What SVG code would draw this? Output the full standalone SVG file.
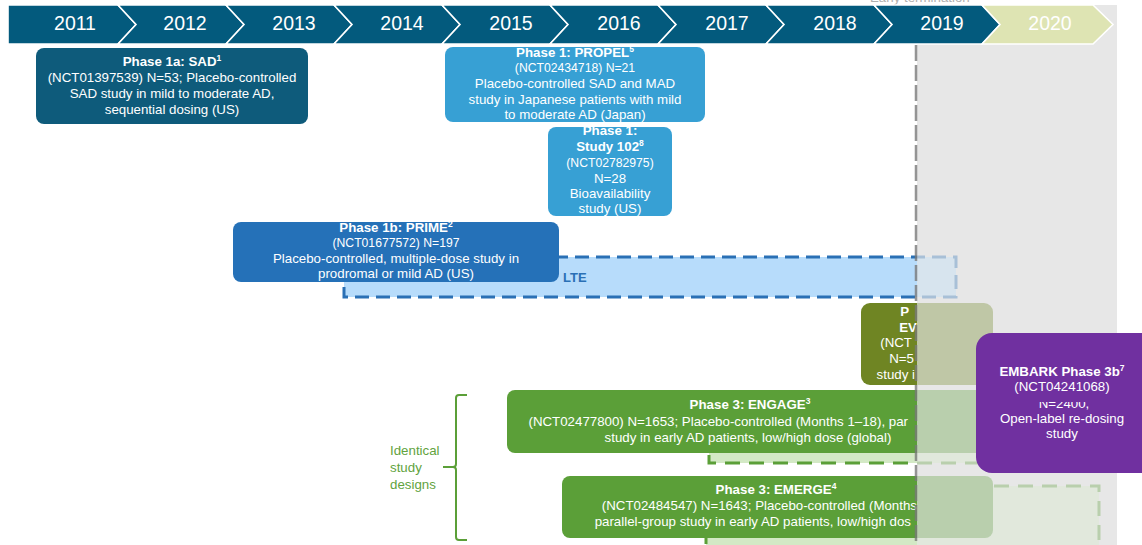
<svg xmlns="http://www.w3.org/2000/svg" width="1142" height="545" viewBox="0 0 1142 545">
  <style>
    text { font-family: 'Liberation Sans', Arial, sans-serif; }
    .yr { font-size: 19.5px; fill: #ffffff; text-anchor: middle; }
    .ttl { font-size: 13.3px; font-weight: bold; fill: #ffffff; text-anchor: middle; }
    .txt { font-size: 13.3px; fill: #ffffff; text-anchor: middle; }
    .sm { font-size: 12.2px; fill: #ffffff; text-anchor: middle; }
    .end { text-anchor: end; }
    .sup { font-size: 8.5px; }
    .chev { fill: #035a7d; stroke: #ffffff; stroke-width: 1.6; }
    .lte-blue { fill: #b7dcfb; stroke: #2a70b5; stroke-width: 3; stroke-dasharray: 14 7; }
    .lte-green { fill: #d3e9c5; stroke: #5b9f38; stroke-width: 3; stroke-dasharray: 15 9; }
    .ph3 { fill: #5b9f38; }
    .lbl { font-size: 13.3px; fill: #62a33e; }
  </style>
  <defs>
    <clipPath id="clipN">
      <rect x="976" y="402" width="170" height="20"/>
    </clipPath>
  </defs>

  <!-- shaded panel for the period after the cut-off -->
  <rect id="panel" x="917" y="5" width="200" height="540" fill="#e7e7e7"/>
  <text x="870" y="1.5" font-size="13.3" fill="#b0b0b0">Early termination</text>

  <!-- long-term extension bars -->
  <g id="lte-prime">
    <rect class="lte-blue" x="344" y="257" width="612" height="40"/>
    <text x="563" y="282" font-size="13" font-weight="bold" fill="#2a70b5">LTE</text>
  </g>
  <g id="lte-engage">
    <rect class="lte-green" x="709" y="420" width="390" height="43"/>
  </g>
  <g id="lte-emerge">
    <rect class="lte-green" x="706" y="486" width="393" height="80"/>
  </g>

  <!-- study nodes -->
  <g id="sad">
    <rect x="36" y="48" width="272" height="76" rx="8" fill="#0e5b7b"/>
    <text class="ttl" x="172" y="66" font-size="12">Phase 1a: SAD<tspan class="sup" dy="-5">1</tspan></text>
    <text class="txt" x="172" y="82">(NCT01397539) N=53; Placebo-controlled</text>
    <text class="txt" x="172" y="98">SAD study in mild to moderate AD,</text>
    <text class="txt" x="172" y="114">sequential dosing (US)</text>
  </g>

  <g id="propel">
    <rect x="445" y="47" width="260" height="75" rx="8" fill="#37a0d4"/>
    <text class="ttl" x="575" y="56.5">Phase 1: PROPEL<tspan class="sup" dy="-5">5</tspan></text>
    <text class="sm" x="575" y="72">(NCT02434718) N=21</text>
    <text class="txt" x="575" y="88" font-size="13.5">Placebo-controlled SAD and MAD</text>
    <text class="txt" x="575" y="103.5" font-size="13.5">study in Japanese patients with mild</text>
    <text class="txt" x="575" y="119" font-size="13.5">to moderate AD (Japan)</text>
  </g>

  <g id="study102">
    <rect x="548" y="127" width="124" height="89" rx="8" fill="#37a0d4"/>
    <text class="ttl" x="610" y="135">Phase 1:</text>
    <text class="ttl" x="610" y="151">Study 102<tspan class="sup" dy="-5">8</tspan></text>
    <text class="sm" x="610" y="167">(NCT02782975)</text>
    <text class="txt" x="610" y="183">N=28</text>
    <text class="txt" x="610" y="198">Bioavailability</text>
    <text class="txt" x="610" y="213">study (US)</text>
  </g>

  <g id="prime">
    <rect x="233" y="222" width="326" height="60" rx="8" fill="#2571b8"/>
    <text class="ttl" x="396" y="232">Phase 1b: PRIME<tspan class="sup" dy="-5">2</tspan></text>
    <text class="sm" x="396" y="247">(NCT01677572) N=197</text>
    <text class="txt" x="396" y="263">Placebo-controlled, multiple-dose study in</text>
    <text class="txt" x="396" y="278">prodromal or mild AD (US)</text>
  </g>

  <g id="evolve">
    <rect x="861" y="303" width="132" height="82" rx="9" fill="#6f8523"/>
    <text class="ttl end" x="909" y="316">P</text>
    <text class="ttl end" x="917" y="332">EV</text>
    <text class="txt end" x="912" y="347">(NCT</text>
    <text class="txt end" x="914" y="363">N=5</text>
    <text class="txt end" x="915" y="379">study i</text>
  </g>

  <g id="engage">
    <rect class="ph3" x="507" y="390" width="486" height="63" rx="8"/>
    <text class="ttl" x="750" y="409">Phase 3: ENGAGE<tspan class="sup" dy="-5">3</tspan></text>
    <text class="txt end" x="908" y="426">(NCT02477800) N=1653; Placebo-controlled (Months 1–18), par</text>
    <text class="txt" x="748" y="442">study in early AD patients, low/high dose (global)</text>
  </g>

  <g id="emerge">
    <rect class="ph3" x="562" y="476" width="431" height="62" rx="8"/>
    <text class="ttl" x="776" y="494">Phase 3: EMERGE<tspan class="sup" dy="-5">4</tspan></text>
    <text class="txt end" x="917" y="510">(NCT02484547) N=1643; Placebo-controlled (Months</text>
    <text class="txt end" x="911" y="526">parallel-group study in early AD patients, low/high dos</text>
  </g>

  <!-- wash over everything past the cut-off -->
  <rect id="panel-wash" x="917" y="44" width="200" height="501" fill="#e7e7e7" opacity="0.67"/>

  <g id="connectors">
    <!-- cut-off line -->
    <line x1="916" y1="45" x2="916" y2="545" stroke="#7a7a7a" stroke-width="2.5" stroke-dasharray="16 4" opacity="0.8"/>
    <!-- bracket grouping the two phase 3 studies -->
    <path d="M467 395 H459 Q456 395 456 398 V464 Q456 467 453 467 H443 M453 467 Q456 467 456 470 V537 Q456 540 459 540 H467" fill="none" stroke="#5b9f38" stroke-width="2"/>
  </g>

  <g id="identical-label">
    <text class="lbl" x="390" y="455">Identical</text>
    <text class="lbl" x="390" y="472">study</text>
    <text class="lbl" x="390" y="489">designs</text>
  </g>

  <!-- year timeline -->
  <g id="timeline">
    <polygon class="chev" points="8,5 118,5 136,24.5 118,44 8,44"/>
    <polygon class="chev" points="118,5 226,5 244,24.5 226,44 118,44 136,24.5"/>
    <polygon class="chev" points="226,5 334,5 352,24.5 334,44 226,44 244,24.5"/>
    <polygon class="chev" points="334,5 442,5 460,24.5 442,44 334,44 352,24.5"/>
    <polygon class="chev" points="442,5 550,5 568,24.5 550,44 442,44 460,24.5"/>
    <polygon class="chev" points="550,5 658,5 676,24.5 658,44 550,44 568,24.5"/>
    <polygon class="chev" points="658,5 766,5 784,24.5 766,44 658,44 676,24.5"/>
    <polygon class="chev" points="766,5 874,5 892,24.5 874,44 766,44 784,24.5"/>
    <polygon class="chev" points="874,5 982,5 1000,24.5 982,44 874,44 892,24.5"/>
    <polygon class="chev" points="982,5 1093,5 1113,24.5 1093,44 982,44 1000,24.5" style="fill:#dee4b3"/>
    <text class="yr" x="75" y="29.5">2011</text>
    <text class="yr" x="185" y="29.5">2012</text>
    <text class="yr" x="294" y="29.5">2013</text>
    <text class="yr" x="402" y="29.5">2014</text>
    <text class="yr" x="511" y="29.5">2015</text>
    <text class="yr" x="619" y="29.5">2016</text>
    <text class="yr" x="727" y="29.5">2017</text>
    <text class="yr" x="835" y="29.5">2018</text>
    <text class="yr" x="942" y="29.5">2019</text>
    <text class="yr" x="1050" y="29.5">2020</text>
  </g>

  <g id="embark">
    <rect x="976" y="333" width="200" height="140" rx="16" fill="#7030a0"/>
    <text class="ttl" x="1062" y="376">EMBARK Phase 3b<tspan class="sup" dy="-5">7</tspan></text>
    <text class="txt" x="1062" y="391">(NCT04241068)</text>
    <text class="txt" x="1064" y="408" clip-path="url(#clipN)">N=2400,</text>
    <text class="txt" x="1062" y="423">Open-label re-dosing</text>
    <text class="txt" x="1062" y="438">study</text>
  </g>
</svg>
